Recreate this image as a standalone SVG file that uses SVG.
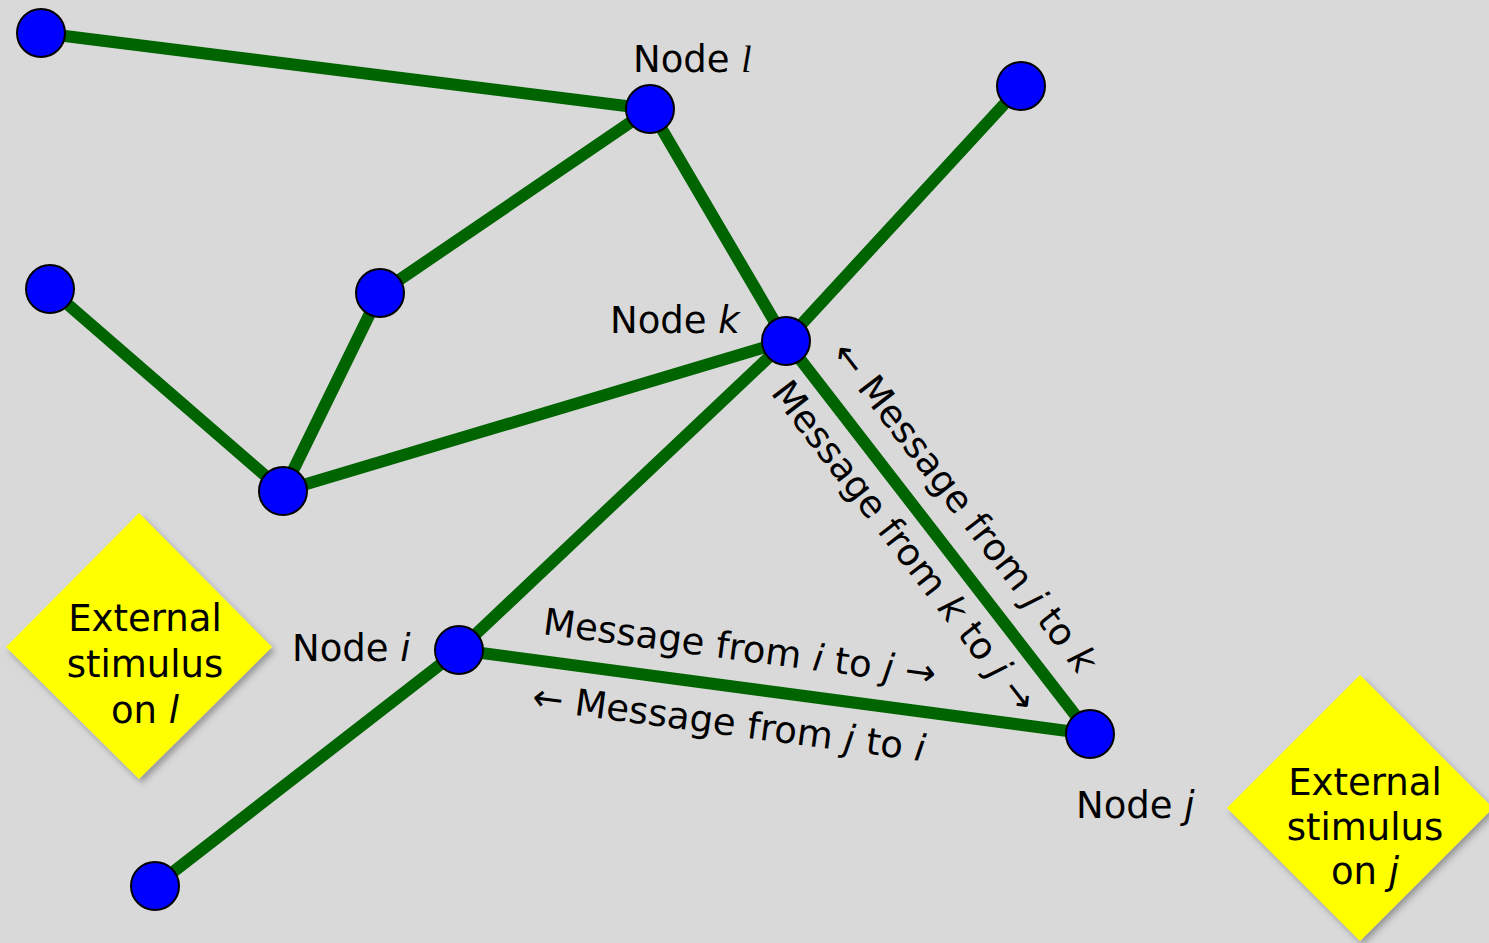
<svg xmlns="http://www.w3.org/2000/svg" width="1489" height="943" viewBox="0 0 1489 943">
<defs>
<style>
.edge{stroke:#006400;stroke-width:12;stroke-linecap:round;fill:none}
.node{fill:#0000ff;stroke:#000;stroke-width:2}
.t{font-family:"DejaVu Sans","Liberation Sans",sans-serif;font-size:37px;fill:#000}
.c{text-anchor:middle}
.it{font-style:italic}
.dia{fill:#ffff00}
</style>
<filter id="sh" x="-20%" y="-20%" width="140%" height="140%">
<feDropShadow dx="3" dy="4" stdDeviation="3" flood-color="#000" flood-opacity="0.3"/>
</filter>
</defs>
<rect width="1489" height="943" fill="#d9d9d9"/>
<g id="connectors">
<line class="edge" x1="41" y1="33" x2="650" y2="109"/>
<line class="edge" x1="650" y1="109" x2="380" y2="293"/>
<line class="edge" x1="650" y1="109" x2="786" y2="341"/>
<line class="edge" x1="1021" y1="86" x2="786" y2="341"/>
<line class="edge" x1="50" y1="289" x2="283" y2="491"/>
<line class="edge" x1="380" y1="293" x2="283" y2="491"/>
<line class="edge" x1="283" y1="491" x2="786" y2="341"/>
<line class="edge" x1="786" y1="341" x2="459" y2="650"/>
<line class="edge" x1="786" y1="341" x2="1090" y2="734"/>
<line class="edge" x1="459" y1="650" x2="1090" y2="734"/>
<line class="edge" x1="459" y1="650" x2="155" y2="886"/>
</g>
<g id="stimulus-l">
<polygon class="dia" filter="url(#sh)" points="139,513 272,647 139,779 6,647"/>
<text class="t c" x="145" y="631">External</text>
<text class="t c" x="145" y="677">stimulus</text>
<text class="t c" x="145" y="723">on <tspan class="it">l</tspan></text>
</g>
<g id="stimulus-j">
<polygon class="dia" filter="url(#sh)" points="1360,675 1493,808 1360,941 1227,808"/>
<text class="t c" x="1365" y="795">External</text>
<text class="t c" x="1365" y="840">stimulus</text>
<text class="t c" x="1365" y="884">on <tspan class="it">j</tspan></text>
</g>
<g id="node-a"><circle class="node" cx="41" cy="33" r="24"/></g>
<g id="node-l"><circle class="node" cx="650" cy="109" r="24"/><text class="t" x="633" y="72">Node <tspan class="it" font-family="Liberation Serif,serif">l</tspan></text></g>
<g id="node-b"><circle class="node" cx="1021" cy="86" r="24"/></g>
<g id="node-c"><circle class="node" cx="50" cy="289" r="24"/></g>
<g id="node-d"><circle class="node" cx="380" cy="293" r="24"/></g>
<g id="node-k"><circle class="node" cx="786" cy="341" r="24"/><text class="t" x="610" y="333">Node <tspan class="it">k</tspan></text></g>
<g id="node-e"><circle class="node" cx="283" cy="491" r="24"/></g>
<g id="node-i"><circle class="node" cx="459" cy="650" r="24"/><text class="t" x="292" y="661">Node <tspan class="it">i</tspan></text></g>
<g id="node-j"><circle class="node" cx="1090" cy="734" r="24"/><text class="t" x="1076" y="818">Node <tspan class="it">j</tspan></text></g>
<g id="node-f"><circle class="node" cx="155" cy="886" r="24"/></g>
<g id="labels">
<text class="t" transform="translate(542,634) rotate(7.6)">Message from <tspan class="it">i</tspan> to <tspan class="it">j</tspan> →</text>
<text class="t" transform="translate(531,709) rotate(7.6)">← Message from <tspan class="it">j</tspan> to <tspan class="it">i</tspan></text>
<text class="t" transform="translate(830,354) rotate(52.3)">← Message from <tspan class="it">j</tspan> to <tspan class="it">k</tspan></text>
<text class="t" transform="translate(770,393) rotate(52.3)">Message from <tspan class="it">k</tspan> to <tspan class="it">j</tspan> →</text>
</g>
</svg>
